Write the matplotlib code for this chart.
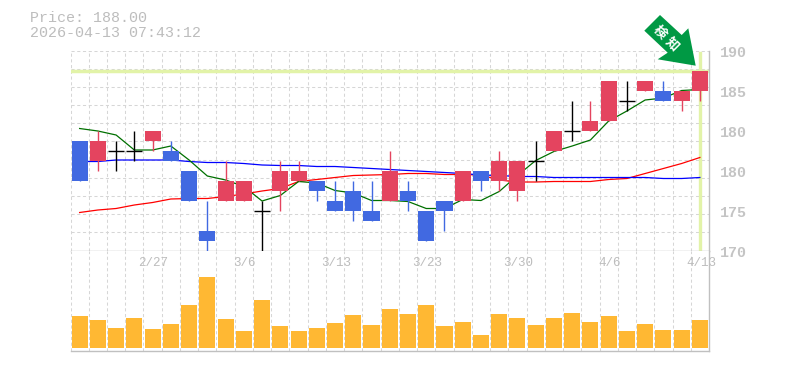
import matplotlib
matplotlib.use("Agg")
import matplotlib.pyplot as plt
from matplotlib.patches import Polygon

# ohlc, one candle per trading day
opens = [181,179,180,180,181,180,178,172,175,175,174,176,177,177,175,176,174,175,176,174,175,175,178,177,176,179,180,182,182,183,185,186,186,185,186]
closes = [177,181,180,180,182,179,175,171,177,177,174,178,178,176,174,174,173,178,175,171,174,178,177,179,179,179,182,182,183,187,185,187,185,186,188]
highs = [181,182,181,182,182,181,178,175,179,177,175,179,179,177,177,177,177,180,177,174,175,178,178,180,179,181,182,185,185,187,187,187,187,186,188]
lows = [177,178,178,179,180,179,175,170,175,175,170,174,177,175,174,173,173,175,174,171,172,175,176,176,175,177,180,181,182,183,184,186,185,184,185]
volumes = [32,28,20,30,19,24,43,71,29,17,48,22,17,20,25,33,23,39,34,43,22,26,13,34,30,23,30,35,26,32,17,24,18,18,28]
ma_short = [182.2,181.95,181.55,180.05,180.05,180.45,179.05,177.45,177.05,176.4,174.95,175.5,176.9,176.75,176.0,175.75,175.0,175.0,174.9,174.2,174.2,175.1,175.0,175.9,177.5,179.0,179.9,180.45,181.05,182.95,183.95,185.05,185.25,186.0,186.1]
ma_mid = [178.9,178.9,179.05,179.05,179.05,179.05,178.9,178.8,178.8,178.7,178.55,178.5,178.5,178.4,178.4,178.3,178.2,178.1,178.0,177.9,177.8,177.7,177.55,177.5,177.4,177.4,177.3,177.3,177.3,177.3,177.3,177.3,177.2,177.2,177.3]
ma_long = [173.8,174.05,174.2,174.55,174.8,175.15,175.2,175.2,175.4,175.65,175.95,176.2,176.9,177.1,177.3,177.5,177.55,177.6,177.7,177.7,177.6,177.6,177.55,177.05,176.85,176.85,176.9,176.9,176.9,177.1,177.2,177.7,178.2,178.7,179.3]
tick_days = [4,9,14,19,24,29,34]
tick_dates = ["2/27","3/6","3/13","3/23","3/30","4/6","4/13"]
price_ticks = [190,186,182,178,174,170]
price_labels = ["190","185","180","180","175","170"]
last_price = 188.00
stamp = "2026-04-13 07:43:12"

W, H = 785, 370
UP = "#e4445f"
DOWN = "#4169e1"
GRID = "#d6d6d6"
FRAME = "#c0c0c0"
TEXT = "#bdbdbd"
HILITE = "#e2f3a8"
VOL = "#ffb833"
MONO = "Liberation Mono"
DASH = (0, (3, 2.5))

def pane(top, bottom):
    # axes rect from pixel positions
    left, right = 70.5, 709
    return [left / W, 1 - bottom / H, (right - left) / W, (bottom - top) / H]

def pretty_pane(ax):
    ax.set_xlim(0, 35)
    ax.set_xticks(range(35))
    ax.set_xticklabels([])
    ax.tick_params(length=0)
    ax.grid(axis="x", color=GRID, lw=0.75, ls=DASH)
    ax.set_axisbelow(True)
    for s in ["top", "left"]:
        ax.spines[s].set_visible(False)
    for s in ["bottom", "right"]:
        ax.spines[s].set_color(FRAME)
        ax.spines[s].set_linewidth(1.0)

fig = plt.figure(figsize=(W / 100, H / 100), dpi=100, facecolor="white")
ax = fig.add_axes(pane(50.5, 250.5))
ax2 = fig.add_axes(pane(250.5, 350.5))
pretty_pane(ax)
pretty_pane(ax2)

# price pane
ax.set_ylim(170, 190)
ax.set_yticks([170 + i * 20 / 11 for i in range(12)])
ax.set_yticklabels([])
ax.grid(axis="y", color=GRID, lw=0.75, ls=DASH)

xs = [i + 0.5 for i in range(len(opens))]
ax.axhline(last_price, color=HILITE, lw=2.5, zorder=1.5)
ax.axvline(xs[-1], ymax=0.99, color=HILITE, lw=2.4, zorder=1.5)

ax.plot(xs, ma_long, color="#ff0000", lw=0.9, zorder=2)
ax.plot(xs, ma_mid, color="#0000ff", lw=0.9, zorder=2)
ax.plot(xs, ma_short, color="#007000", lw=0.9, zorder=2)

for x, o, c, h, l in zip(xs, opens, closes, highs, lows):
    if c == o:
        col = "black"
    elif c > o:
        col = UP
    else:
        col = DOWN
    ax.vlines(x, l, h, color=col, lw=1.0, zorder=3)
    if c == o:
        ax.hlines(o, x - 0.44, x + 0.44, color=col, lw=1.0, zorder=3)
    else:
        ax.bar(x, abs(c - o), bottom=min(o, c), width=0.88, color=col, lw=0, zorder=3)

for t, s in zip(price_ticks, price_labels):
    ax.annotate(s, (1, t), xycoords=("axes fraction", "data"), xytext=(11, -2.5),
                textcoords="offset pixels", color="#c4c4c4", family=MONO, fontsize=10.8,
                fontweight="bold", va="center", ha="left", annotation_clip=False)

# volume pane
ax2.set_ylim(-2.3, 97.7)
ax2.set_yticks([])
ax2.bar(xs, volumes, width=0.88, color=VOL, lw=0, zorder=3)
for d, s in zip(tick_days, tick_dates):
    ax2.annotate(s, (xs[d], 1), xycoords=("data", "axes fraction"), xytext=(1, -12),
                 textcoords="offset pixels", color=TEXT, family=MONO, fontsize=9,
                 ha="center", va="center", annotation_clip=False)

# header
fig.text(30 / W, 1 - 18 / H, "Price: %.2f" % last_price, color=TEXT, family=MONO, fontsize=10.8, va="center")
fig.text(30 / W, 1 - 33 / H, stamp, color=TEXT, family=MONO, fontsize=10.8, va="center")

# signal arrow, in pixels
arrow_px = [(660, 15), (644.3, 30.7), (667.7, 52.7), (657.7, 59.3), (695.7, 65.7), (688.3, 28.3), (681.7, 35)]
arrow = Polygon([(x / W, 1 - y / H) for x, y in arrow_px], closed=True, transform=fig.transFigure,
                facecolor="#009944", edgecolor="none", zorder=5)
fig.add_artist(arrow)
for ch, px, py in [("検", 660, 31.7), ("知", 672.7, 44.3)]:
    fig.text(px / W, 1 - py / H, ch, color="white", family=["Noto Sans CJK JP", "DejaVu Sans"], fontsize=9.5,
             fontweight="bold", rotation=-45, ha="center", va="center", zorder=6)

fig.savefig("out.png", dpi=100)
